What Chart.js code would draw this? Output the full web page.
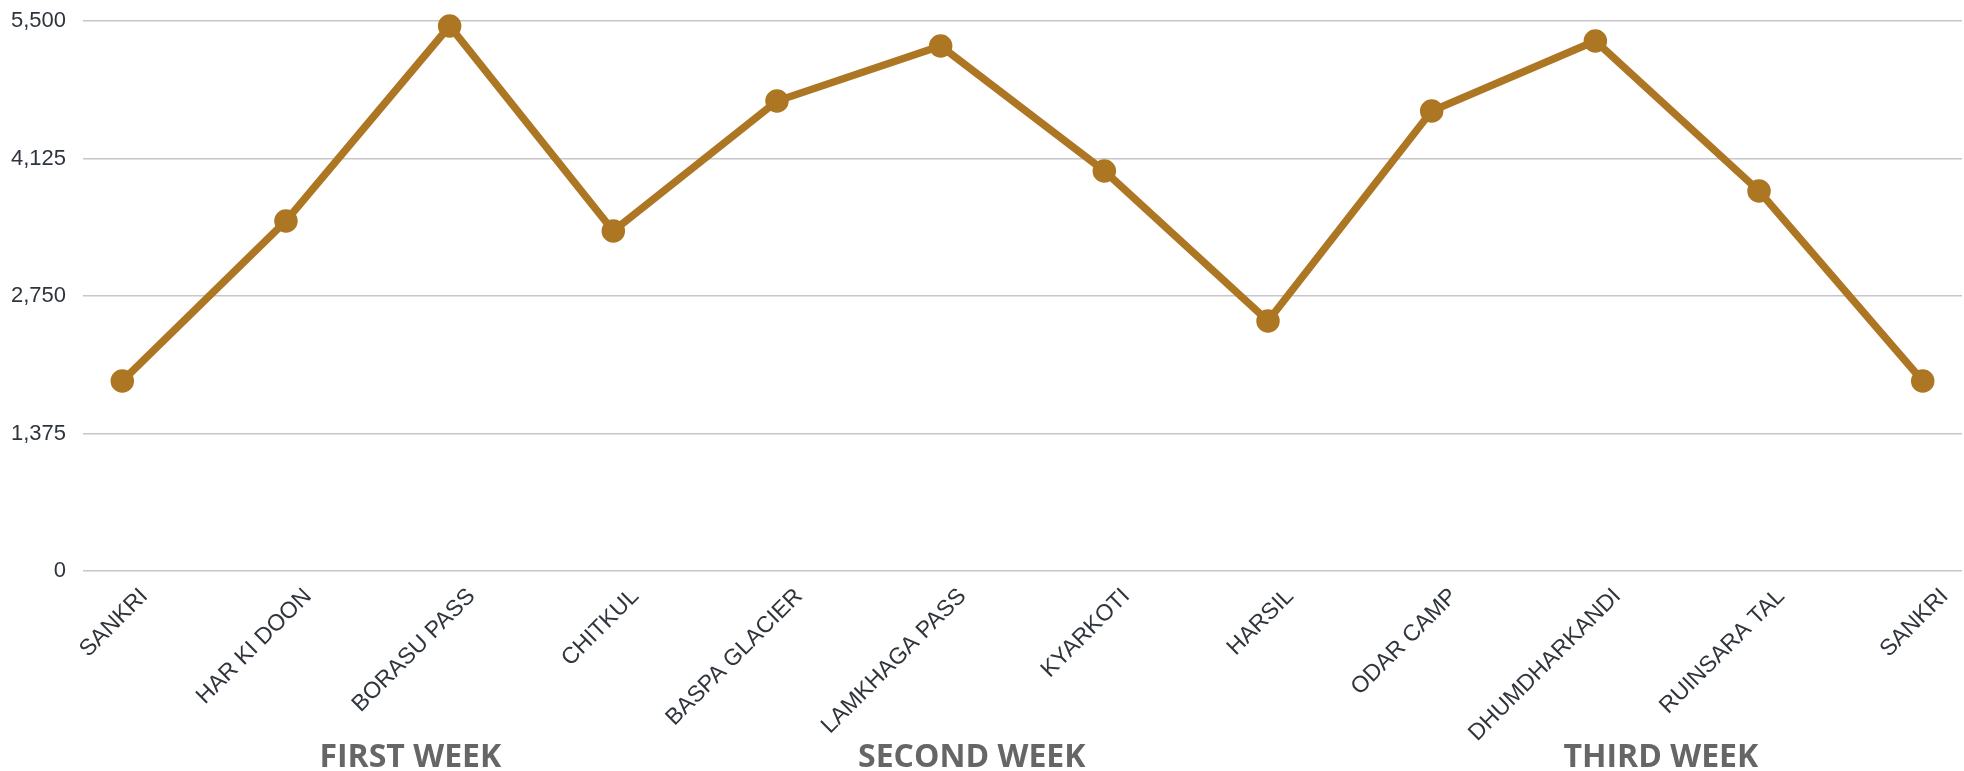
<!DOCTYPE html>
<html>
<head>
<meta charset="utf-8">
<script src="https://cdn.jsdelivr.net/npm/chart.js@4"></script>
<style>
  html, body { margin: 0; padding: 0; background: #ffffff; overflow: hidden; }
  #wrap { width: 1964px; height: 771px; position: relative; }
</style>
</head>
<body>
<div id="wrap"><canvas id="c"></canvas></div>
<script>
// ---- data ----
const categories = ["SANKRI", "HAR KI DOON", "BORASU PASS", "CHITKUL", "BASPA GLACIER", "LAMKHAGA PASS",
                    "KYARKOTI", "HARSIL", "ODAR CAMP", "DHUMDHARKANDI", "RUINSARA TAL", "SANKRI"];
const altitudes = [1900, 3500, 5450, 3400, 4700, 5250, 4000, 2500, 4600, 5300, 3800, 1900];
const weekLabels = ["FIRST WEEK", "SECOND WEEK", "THIRD WEEK"];
const weekCenters = [1.76, 5.19, 9.40];   // position along the category index axis
const yTickValues = [0, 1375, 2750, 4125, 5500];

const lineColor = "#ad7623";
const textColor = "#2f353d";
const xPad = 0.24;

const noLabelClip = (s) => { s._computeLabelArea = () => undefined; };

const chart = new Chart(document.getElementById("c"), {
  type: "line",
  data: {
    datasets: [{
      data: altitudes.map((v, i) => ({ x: i, y: v })),
      borderColor: lineColor,
      backgroundColor: lineColor,
      borderWidth: 7.5,
      tension: 0,
      pointRadius: 11,
      pointBackgroundColor: lineColor,
      pointBorderColor: lineColor,
      pointBorderWidth: 1.5,
      fill: false,
      clip: false
    }]
  },
  options: {
    responsive: true,
    maintainAspectRatio: false,
    animation: false,
    layout: { autoPadding: false, padding: { top: 21, right: 2, left: 0, bottom: 0 } },
    plugins: { legend: { display: false }, tooltip: { enabled: false } },
    scales: {
      x: {
        type: "linear",
        position: "bottom",
        min: -xPad,
        max: categories.length - 1 + xPad,
        grid: { display: false, drawTicks: false },
        border: { display: false },
        afterBuildTicks: (s) => { s.ticks = categories.map((_, i) => ({ value: i })); },
        afterFit: (s) => { s.height = 170; s.paddingLeft = 0; s.paddingRight = 0; noLabelClip(s); },
        ticks: {
          autoSkip: false,
          minRotation: 45,
          maxRotation: 45,
          padding: 12,
          labelOffset: 22,
          color: textColor,
          font: { family: "'Liberation Sans', Arial, sans-serif", size: 23 },
          callback: (v, i) => categories[i]
        }
      },
      x2: {
        type: "linear",
        position: "bottom",
        min: -xPad,
        max: categories.length - 1 + xPad,
        grid: { display: false, drawTicks: false },
        border: { display: false },
        afterBuildTicks: (s) => { s.ticks = weekCenters.map(v => ({ value: v })); },
        afterFit: (s) => { s.height = 30; s.paddingLeft = 0; s.paddingRight = 0; noLabelClip(s); },
        ticks: {
          autoSkip: false,
          maxRotation: 0,
          minRotation: 0,
          padding: 0,
          color: "#666666",
          font: { family: "'Open Sans', sans-serif", size: 32, weight: "bold", lineHeight: 1.05 },
          callback: (v, i) => weekLabels[i]
        }
      },
      y: {
        min: 0,
        max: 5500,
        afterBuildTicks: (s) => { s.ticks = yTickValues.map(v => ({ value: v })); },
        afterFit: (s) => { s.width = 83; s.paddingTop = 0; s.paddingBottom = 0; },
        grid: { color: "#c6c6cb", lineWidth: 1.5, drawTicks: false },
        border: { display: false },
        ticks: {
          padding: 17,
          color: textColor,
          font: { family: "'Liberation Sans', Arial, sans-serif", size: 22 },
          callback: (v) => Number(v).toLocaleString("en-US")
        }
      }
    }
  }
});
</script>
</body>
</html>
